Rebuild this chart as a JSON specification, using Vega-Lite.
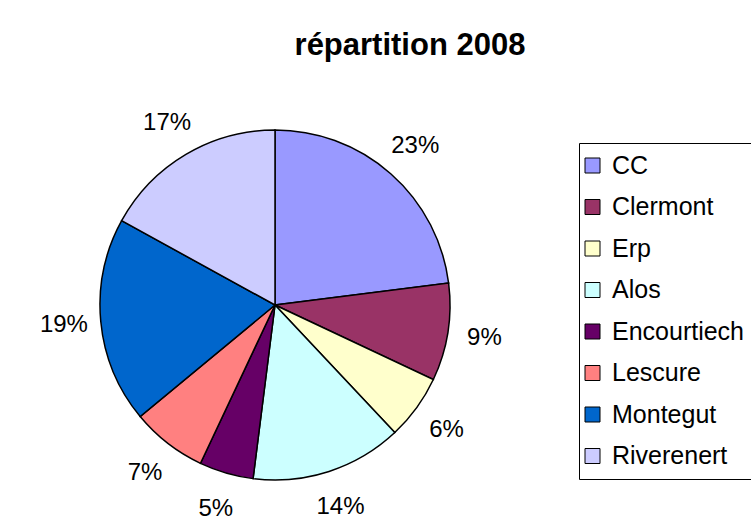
{
  "$schema": "https://vega.github.io/schema/vega-lite/v6.json",
  "width": 350,
  "height": 350,
  "autosize": {"type": "none"},
  "padding": {"left": 100, "top": 130, "right": 301, "bottom": 46},
  "background": "white",
  "config": {"view": {"stroke": null}, "font": "Liberation Sans"},
  "title": {
    "text": "répartition 2008",
    "font": "Liberation Sans",
    "fontSize": 31,
    "fontWeight": "bold",
    "color": "black",
    "anchor": "middle",
    "frame": "group",
    "baseline": "alphabetic",
    "offset": 25,
    "dx": 135
  },
  "data": {
    "values": [
      {"name": "CC", "value": 23, "order": 1, "label": "23%"},
      {"name": "Clermont", "value": 9, "order": 2, "label": "9%"},
      {"name": "Erp", "value": 6, "order": 3, "label": "6%"},
      {"name": "Alos", "value": 14, "order": 4, "label": "14%"},
      {"name": "Encourtiech", "value": 5, "order": 5, "label": "5%"},
      {"name": "Lescure", "value": 7, "order": 6, "label": "7%"},
      {"name": "Montegut", "value": 19, "order": 7, "label": "19%"},
      {"name": "Riverenert", "value": 17, "order": 8, "label": "17%"}
    ]
  },
  "encoding": {
    "theta": {"field": "value", "type": "quantitative", "stack": true},
    "order": {"field": "order", "type": "quantitative"}
  },
  "layer": [
    {
      "mark": {"type": "arc", "stroke": "black", "strokeWidth": 1.5},
      "encoding": {
        "color": {
          "field": "name",
          "type": "nominal",
          "scale": {
            "domain": ["CC", "Clermont", "Erp", "Alos", "Encourtiech", "Lescure", "Montegut", "Riverenert"],
            "range": ["#9999FF", "#993366", "#FFFFCC", "#CCFFFF", "#660066", "#FF8080", "#0066CC", "#CCCCFF"]
          },
          "legend": {
            "title": null,
            "orient": "none",
            "legendX": 479,
            "legendY": 13,
            "padding": 10,
            "strokeColor": "black",
            "fillColor": "white",
            "symbolType": "square",
            "symbolSize": 225,
            "symbolOffset": -9,
            "symbolStrokeColor": "black",
            "symbolStrokeWidth": 1,
            "symbolOpacity": 1,
            "labelFont": "Liberation Sans",
            "labelFontSize": 25,
            "labelColor": "black",
            "labelOffset": 7,
            "labelLimit": 300,
            "rowPadding": 15.5
          }
        }
      }
    },
    {
      "mark": {"type": "text", "radius": 212, "fontSize": 24, "font": "Liberation Sans", "color": "black"},
      "encoding": {"text": {"field": "label", "type": "nominal"}}
    }
  ]
}
